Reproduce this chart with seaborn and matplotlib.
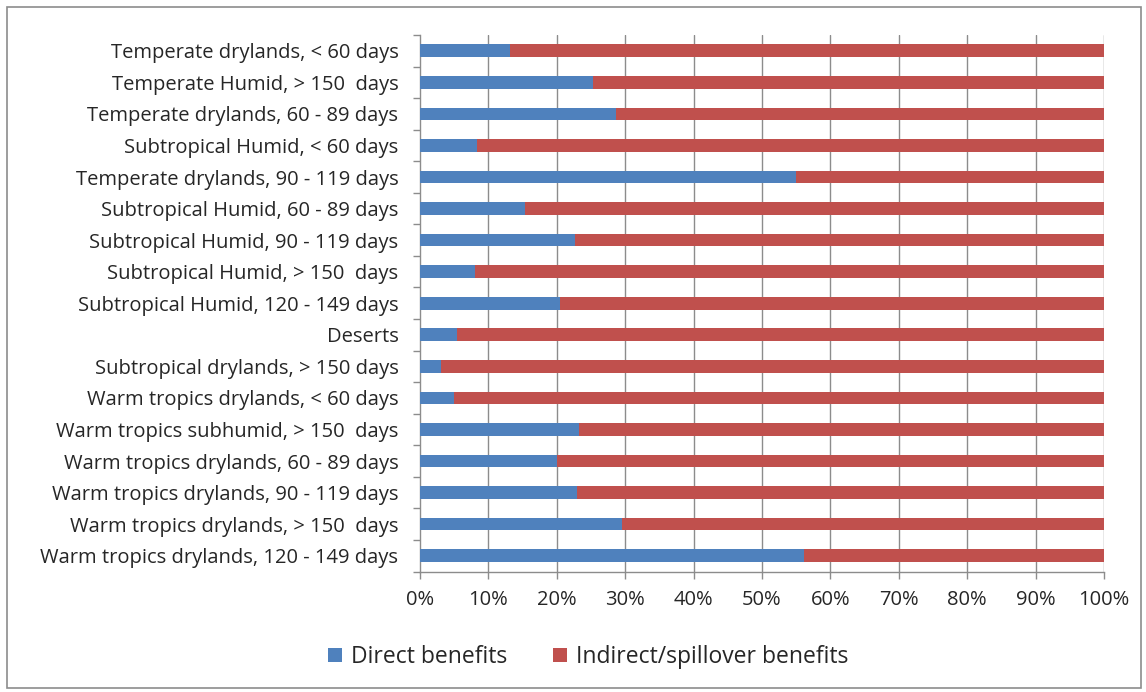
import matplotlib
matplotlib.use("Agg")
import matplotlib.pyplot as plt
import seaborn as sns
import pandas as pd
from matplotlib.ticker import PercentFormatter, MultipleLocator
from matplotlib.patches import Rectangle

categories = [
    "Temperate drylands, < 60 days",
    "Temperate Humid, > 150  days",
    "Temperate drylands, 60 - 89 days",
    "Subtropical Humid, < 60 days",
    "Temperate drylands, 90 - 119 days",
    "Subtropical Humid, 60 - 89 days",
    "Subtropical Humid, 90 - 119 days",
    "Subtropical Humid, > 150  days",
    "Subtropical Humid, 120 - 149 days",
    "Deserts",
    "Subtropical drylands, > 150 days",
    "Warm tropics drylands, < 60 days",
    "Warm tropics subhumid, > 150  days",
    "Warm tropics drylands, 60 - 89 days",
    "Warm tropics drylands, 90 - 119 days",
    "Warm tropics drylands, > 150  days",
    "Warm tropics drylands, 120 - 149 days",
]
direct = [13.2, 25.3, 28.7, 8.4, 54.9, 15.4, 22.6, 8.0, 20.5,
          5.4, 3.0, 5.0, 23.2, 20.0, 22.9, 29.6, 56.2]
indirect = [100 - d for d in direct]

series_names = ["Direct benefits", "Indirect/spillover benefits"]
colors = ["#4F81BD", "#C0504D"]

df = pd.DataFrame({"category": categories, "direct": direct, "indirect": indirect})
df["total"] = df["direct"] + df["indirect"]

sns.set_theme(style="white")
plt.rcParams["font.family"] = ["Open Sans", "DejaVu Sans"]

fig = plt.figure(figsize=(11.46, 6.92), dpi=100)
ax = fig.add_axes([420 / 1146, 1 - 571.5 / 692, 684 / 1146, 536.5 / 692])

sns.barplot(data=df, y="category", x="total", orient="h", color=colors[1],
            saturation=1, width=0.4, ax=ax, label=series_names[1], zorder=3,
            linewidth=0, edgecolor="none")
sns.barplot(data=df, y="category", x="direct", orient="h", color=colors[0],
            saturation=1, width=0.4, ax=ax, label=series_names[0], zorder=4,
            linewidth=0, edgecolor="none")
if ax.get_legend() is not None:
    ax.get_legend().remove()

ax.set_xlim(0, 100)
ax.set_ylim(len(categories) - 0.5, -0.5)
ax.xaxis.set_major_locator(MultipleLocator(10))
ax.xaxis.set_major_formatter(PercentFormatter(decimals=0))
ax.set_xlabel("")
ax.set_ylabel("")

for x in range(10, 101, 10):
    ax.axvline(x, color="#8C8C8C", lw=1.0, zorder=1)

for s in ["top", "right"]:
    ax.spines[s].set_visible(False)
for s in ["left", "bottom"]:
    ax.spines[s].set_visible(True)
    ax.spines[s].set_color("#8C8C8C")
    ax.spines[s].set_linewidth(1.0)

ax.set_yticks(range(len(categories)))
ax.set_yticklabels(categories)
ax.set_yticks([i - 0.5 for i in range(len(categories) + 1)], minor=True)
ax.tick_params(axis="y", which="major", length=0, labelsize=14.5, pad=15.5, colors="#262626")
ax.tick_params(axis="y", which="minor", length=5, width=1, color="#8C8C8C", direction="out", left=True)
ax.tick_params(axis="x", which="major", length=5, width=1, color="#8C8C8C", direction="out",
               bottom=True, labelsize=14.5, pad=8, labelcolor="#262626")

handles, labels = ax.get_legend_handles_labels()
order = [labels.index(n) for n in series_names]
leg = fig.legend([handles[i] for i in order], [labels[i] for i in order],
                 loc="center", bbox_to_anchor=(588 / 1146, 1 - 657 / 692), ncol=2,
                 frameon=False, fontsize=16.5, handlelength=0.6, handleheight=0.6,
                 handletextpad=0.4, columnspacing=2.0)
for t in leg.get_texts():
    t.set_color("#262626")

fig.patches.append(Rectangle((7 / 1146, 4 / 692), 1134 / 1146, 681 / 692,
                             transform=fig.transFigure, fill=False,
                             edgecolor="#8C8C8C", lw=1.2))

fig.savefig("out.png", dpi=100)
